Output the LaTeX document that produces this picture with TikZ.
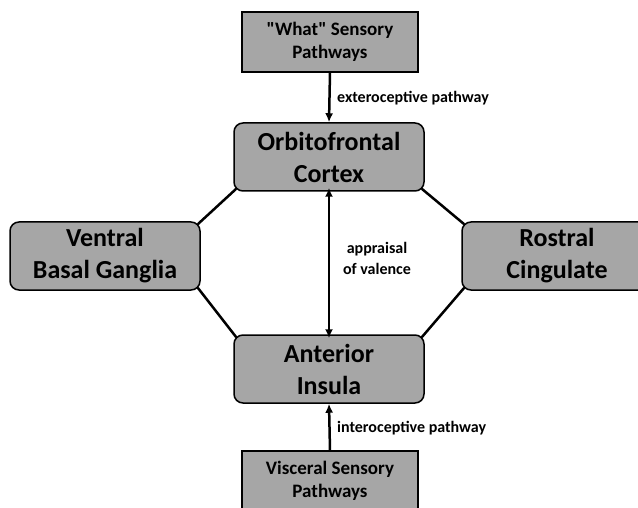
\documentclass[tikz,border=0pt]{standalone}
\usepackage{fontspec}
\setmainfont{Carlito}
\usetikzlibrary{arrows.meta}
\definecolor{boxgray}{RGB}{166,166,166}
\tikzset{
  bigbox/.style={draw=black, line width=1.5pt, fill=boxgray, rounded corners=9pt,
    minimum width=190pt, minimum height=68pt, align=center, inner sep=0pt,
    font=\bfseries\fontsize{26}{32}\selectfont},
  srcbox/.style={draw=black, line width=1.5pt, fill=boxgray,
    minimum width=176pt, minimum height=60pt, align=center, inner sep=0pt,
    font=\bfseries\fontsize{19}{23}\selectfont},
  lbl/.style={font=\bfseries\fontsize{16}{21}\selectfont, align=center, inner sep=0pt},
  link/.style={line width=2.5pt},
  arr/.style={line width=2.5pt, -{Latex[length=9pt,width=8pt]}},
  darr/.style={line width=2.5pt, {Latex[length=9pt,width=8pt]}-{Latex[length=9pt,width=8pt]}}
}
\begin{document}
\begin{tikzpicture}[x=1pt,y=-1pt]
\useasboundingbox (0,0) rectangle (638,508);
\node[srcbox] (what) at (330,42) {\textquotedbl What\textquotedbl{} Sensory\\Pathways};
\node[bigbox] (ofc) at (329,157) {Orbitofrontal\\Cortex};
\node[bigbox] (vbg) at (105,256) {Ventral\\Basal Ganglia};
\node[bigbox] (rc) at (557,256) {Rostral\\Cingulate};
\node[bigbox] (ai) at (329,369) {Anterior\\Insula};
\node[srcbox] (vs) at (330,481) {Visceral Sensory\\Pathways};

\draw[link] ([shift={(3,-3)}]ofc.south west) -- ([shift={(-3,3)}]vbg.north east);
\draw[link] ([shift={(-3,-3)}]ofc.south east) -- ([shift={(3,3)}]rc.north west);
\draw[link] ([shift={(-3,-3)}]vbg.south east) -- ([shift={(3,3)}]ai.north west);
\draw[link] ([shift={(3,-3)}]rc.south west) -- ([shift={(-3,3)}]ai.north east);

\draw[arr] (what.south) -- (ofc.north);
\draw[arr] (vs.north) -- (ai.south);
\draw[darr] ([yshift=4pt]ofc.south) -- ([yshift=-4pt]ai.north);

\node[lbl, anchor=west] (ext) at (337,98) {exteroceptive pathway};
\node[lbl, anchor=west] (int) at (337,428) {interoceptive pathway};
\node[lbl] (app) at (377,258) {appraisal\\of valence};
\end{tikzpicture}
\end{document}
